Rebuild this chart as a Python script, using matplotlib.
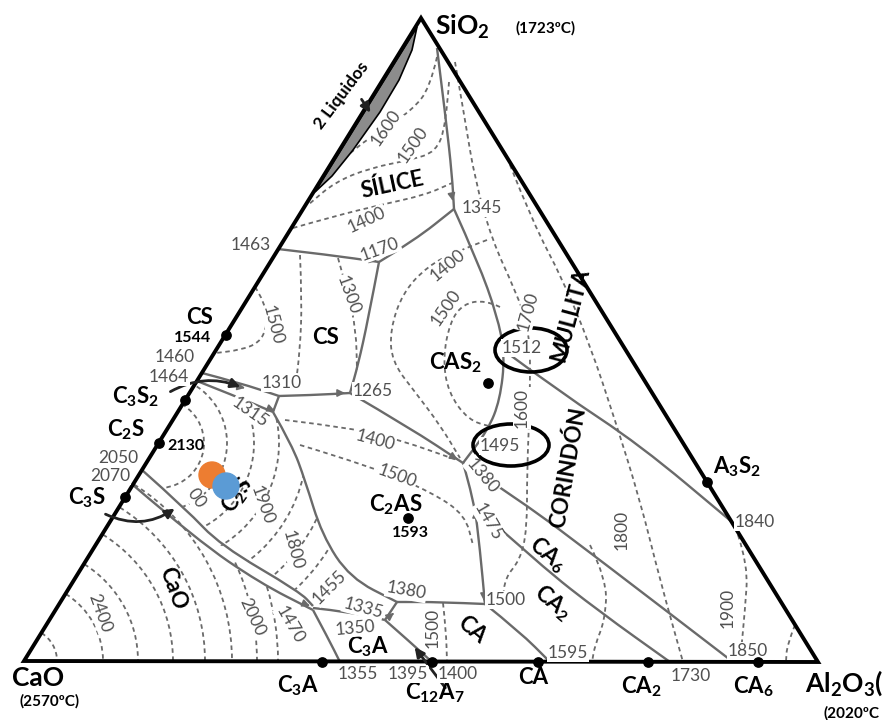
import matplotlib.pyplot as plt
from matplotlib.path import Path
from matplotlib.patches import PathPatch, Polygon, Ellipse, Circle, Arc

plt.rcParams["font.family"] = ["Lato", "DejaVu Sans"]
plt.rcParams["mathtext.fontset"] = "custom"
plt.rcParams["mathtext.rm"] = "Lato:bold"
plt.rcParams["mathtext.bf"] = "Lato:bold"
plt.rcParams["mathtext.default"] = "bf"

# picture units: x to the right, y downwards (0..890, 0..720)
corners = [(24, 661), (818, 662), (421, 18)]          # CaO, Al2O3, SiO2

two_liquids = [(315, 192), (417, 27), (412, 50), (399, 80), (380, 112), (353, 150), (332, 176)]

compounds = [(226, 335), (185, 400), (159, 443), (125, 497),        # CS C3S2 C2S C3S
             (322, 662), (432, 662), (538, 662), (648, 662), (758, 662),
             (707, 482), (488, 383), (408, 518)]                   # A3S2 CAS2 C2AS

boundaries = [
    [(278, 249), (330, 255), (379, 262)],
    [(379, 262), (415, 240), (454, 209)],
    [(437, 48), (446, 120), (452, 175), (454, 209)],
    [(454, 209), (478, 262), (497, 315), (505, 355), (500, 400), (488, 430), (463, 463)],
    [(379, 262), (368, 320), (358, 365), (350, 393)],
    [(279, 396), (315, 395), (350, 393)],
    [(350, 393), (410, 428), (463, 463)],
    [(463, 463), (474, 500), (480, 550), (485, 604)],
    [(485, 604), (440, 602), (397, 602)],
    [(485, 604), (520, 632), (550, 662)],
    [(506, 352), (560, 392), (640, 445), (732, 522)],
    [(463, 463), (520, 500), (600, 560), (733, 662)],
    [(476, 507), (540, 565), (600, 612), (670, 662)],
    [(202, 373), (240, 383), (279, 396)],
    [(197, 381), (235, 396), (273, 412)],
    [(279, 396), (273, 412)],
    [(273, 412), (292, 445), (305, 480), (322, 535), (350, 578), (397, 602)],
    [(142, 470), (187, 510), (220, 545), (300, 592), (313, 606)],
    [(133, 485), (197, 540), (260, 583), (313, 610)],
    [(313, 608), (350, 612), (385, 620)],
    [(385, 620), (397, 602)],
    [(313, 610), (328, 638), (340, 662)],
    [(385, 620), (410, 642), (432, 662)],
]

isotherms = [
    [(437, 57), (430, 88), (412, 110), (385, 128), (355, 148), (330, 172)],
    [(449, 82), (446, 125), (436, 152), (410, 160), (370, 168), (335, 182), (308, 205)],
    [(293, 228), (335, 216), (380, 205), (425, 195), (452, 183)],
    [(455, 62), (465, 120), (475, 180), (492, 240), (515, 290), (530, 330), (530, 400),
     (527, 470), (527, 530), (520, 560), (505, 578), (503, 600)],
    [(510, 165), (533, 223), (563, 280), (590, 345), (615, 420), (640, 500), (660, 580), (683, 662)],
    [(738, 535), (748, 565), (745, 610), (740, 662)],
    [(795, 625), (787, 645), (786, 662)],
    [(443, 603), (446, 630), (447, 662)],
    [(590, 545), (607, 580), (605, 620), (595, 645), (592, 662)],
    [(487, 240), (455, 252), (428, 266), (403, 292), (390, 330), (392, 362), (415, 392),
     (440, 425), (460, 458)],
    [(500, 307), (485, 300), (463, 304), (450, 322), (443, 358), (448, 392), (468, 420), (492, 427)],
    [(255, 287), (265, 302), (267, 327), (259, 343), (240, 350), (216, 353)],
    [(300, 255), (302, 300), (300, 350), (295, 390)],
    [(338, 258), (348, 293), (356, 330), (357, 370)],
    [(285, 420), (352, 428), (400, 440), (457, 460)],
    [(300, 445), (373, 467), (433, 493), (465, 515), (473, 545)],
]

cao_radii = [33, 79, 114, 149, 181, 208, 233, 254]
cao_reach = [58, 58, 58, 58, 58, 58, 25, 17]          # degrees above the base
c2s_radii = [45, 68, 95, 120, 148, 175, 200]
c2s_field = [(197, 381), (142, 470), (187, 510), (220, 545), (300, 592), (313, 606),
             (350, 612), (385, 620), (397, 602), (350, 578), (322, 535), (305, 480),
             (292, 445), (273, 412), (235, 396)]

ellipses = [(531, 350, 72, 44), (511, 445, 76, 42)]
samples = [(212, 475, "#ED7D31"), (226, 486, "#5B9BD5")]

arrows = [  # (x, y, dx, dy) small flow arrows on boundaries
    (452, 196, 1, 5), (372, 260, 5, 1), (240, 387, 5, 1), (340, 393, 5, 0),
    (455, 458, 5, 3), (476, 515, 0, -5), (484, 596, 0, 5), (270, 409, 5, 2),
    (305, 604, 5, 2), (390, 616, 4, -3), (488, 601, -5, 0),
]

big_labels = [("SiO$_2$", 435, 27, "left"), ("CaO", 12, 678, "left"), ("Al$_2$O$_3$(", 805, 683, "left")]
melt_labels = [("(1723ºC)", 516, 28), ("(2570ºC)", 20, 701), ("(2020ºC", 823, 713)]

phase_labels = [
    ("CS", 200, 317, 0), ("C$_3$S$_2$", 136, 397, 0), ("C$_2$S", 126, 430, 0), ("C$_3$S", 87, 498, 0),
    ("CS", 326, 337, 0), ("SÍLICE", 392, 185, 12), ("CAS$_2$", 455, 363, 0),
    ("MULLITA", 570, 315, 75), ("CORINDÓN", 568, 468, 80), ("C$_2$AS", 396, 505, 0),
    ("CA$_6$", 548, 555, -40), ("CA$_2$", 553, 603, -40), ("CA", 472, 630, -40),
    ("C$_3$A", 368, 647, 0), ("C$_2$S", 238, 495, 55), ("CaO", 173, 588, -70),
    ("C$_3$A", 298, 686, 0), ("C$_{12}$A$_7$", 435, 693, 0), ("CA", 533, 678, 0),
    ("CA$_2$", 641, 687, 0), ("CA$_6$", 753, 687, 0), ("A$_3$S$_2$", 737, 467, 0),
]
note_labels = [("2 Liquidos", 341, 95, 53)]
point_temps = [("1544", 193, 338), ("2130", 186, 446), ("1593", 410, 533)]

temps = [
    ("1600", 386, 128, 55), ("1500", 413, 145, 55), ("1400", 367, 220, 25), ("1345", 482, 208, 0),
    ("1170", 380, 249, 20), ("1463", 251, 245, 0), ("1300", 348, 295, -70), ("1500", 273, 325, -75),
    ("1400", 448, 265, 40), ("1500", 446, 308, 55), ("1700", 528, 311, 75), ("1512", 522, 348, 0),
    ("1495", 500, 446, 0), ("1600", 522, 408, 90), ("1400", 375, 440, -15), ("1500", 397, 476, -20),
    ("1380", 482, 476, -50), ("1265", 373, 391, 0), ("1310", 282, 383, 0), ("1315", 250, 412, -35),
    ("1460", 175, 357, 0), ("1464", 169, 377, 0), ("2050", 118, 458, 0), ("2070", 110, 476, 0),
    ("00", 196, 498, -55), ("1900", 262, 505, -70), ("1800", 293, 550, -75), ("2400", 100, 613, -70),
    ("2000", 252, 617, -65), ("1470", 290, 625, -60), ("1455", 329, 587, 45), ("1335", 363, 608, -15),
    ("1350", 355, 628, 5), ("1380", 406, 591, -10), ("1500", 433, 628, 90), ("1475", 488, 522, -60),
    ("1500", 506, 600, 0), ("1595", 568, 653, 0), ("1355", 358, 674, 0), ("1395", 408, 674, 0),
    ("1400", 458, 674, 0), ("1730", 691, 676, 0), ("1850", 748, 651, 0), ("1840", 755, 522, 0),
    ("1800", 622, 530, 90), ("1900", 728, 608, 90),
]

pointers = [  # black label arrows: start, end, curvature
    ((360, 97), (372, 115), 0.0), ((168, 393), (243, 388), -0.25),
    ((103, 513), (177, 507), 0.3), ((447, 690), (413, 645), 0.0),
]

GRAY = "#6a6a6a"


def smooth(points):
    verts, codes = [points[0]], [Path.MOVETO]
    for i in range(1, len(points) - 1):
        nxt = points[i + 1]
        mid = ((points[i][0] + nxt[0]) / 2, (points[i][1] + nxt[1]) / 2)
        verts += [points[i], mid]
        codes += [Path.CURVE3, Path.CURVE3]
    verts.append(points[-1])
    codes.append(Path.LINETO)
    return Path(verts, codes)


fig = plt.figure(figsize=(8.9, 7.2), dpi=100)
ax = fig.add_axes([0, 0, 1, 1])
ax.set_xlim(0, 890)
ax.set_ylim(720, 0)
ax.axis("off")

for pts in isotherms:
    ax.add_patch(PathPatch(smooth(pts), fill=False, ec=GRAY, lw=1.3, ls=(0, (2.5, 2))))

cao_x, cao_y = corners[0]
for r, reach in zip(cao_radii, cao_reach):
    ax.add_patch(Arc((cao_x, cao_y), 2 * r, 2 * r, theta1=-reach, theta2=0,
                     ec=GRAY, lw=1.3, ls=(0, (2.5, 2))))

field = Polygon(c2s_field, closed=True, transform=ax.transData)
for r in c2s_radii:
    arc = Arc(compounds[2], 2 * r, 2 * r, theta1=-70, theta2=85, ec=GRAY, lw=1.3, ls=(0, (2.5, 2)))
    ax.add_patch(arc)
    arc.set_clip_path(field)

for pts in boundaries:
    ax.add_patch(PathPatch(smooth(pts), fill=False, ec=GRAY, lw=1.7))

for x, y, dx, dy in arrows:
    ax.annotate("", xy=(x + dx, y + dy), xytext=(x, y),
                arrowprops=dict(arrowstyle="-|>", color=GRAY, lw=1.2, mutation_scale=11))

ax.add_patch(Polygon(two_liquids, closed=True, fc="#8c8c8c", ec="black", lw=1.2))
ax.add_patch(Polygon(corners, closed=True, fill=False, ec="black", lw=2.8, joinstyle="miter"))

for cx, cy, w, h in ellipses:
    ax.add_patch(Ellipse((cx, cy), w, h, fill=False, ec="black", lw=2.6))

xs, ys = zip(*compounds)
ax.scatter(xs, ys, s=45, color="black", zorder=5)

for x, y, c in samples:
    ax.add_patch(Circle((x, y), 13, color=c, zorder=6))

for (x0, y0), (x1, y1), rad in pointers:
    ax.annotate("", xy=(x1, y1), xytext=(x0, y0),
                arrowprops=dict(arrowstyle="-|>", color="#222222", lw=2.0, mutation_scale=14,
                                connectionstyle=f"arc3,rad={rad}"))

for text, x, y, ha in big_labels:
    ax.text(x, y, text, fontsize=19, fontweight="bold", ha=ha, va="center")
for text, x, y in melt_labels:
    ax.text(x, y, text, fontsize=11, fontweight="bold", ha="left", va="center")
for text, x, y, rot in phase_labels:
    ax.text(x, y, text, fontsize=16, fontweight="bold", ha="center", va="center",
            rotation=rot, rotation_mode="anchor")
for text, x, y, rot in note_labels:
    ax.text(x, y, text, fontsize=12.5, fontweight="bold", ha="center", va="center",
            rotation=rot, rotation_mode="anchor")
for text, x, y in point_temps:
    ax.text(x, y, text, fontsize=11.5, fontweight="bold", ha="center", va="center")
for text, x, y, rot in temps:
    ax.text(x, y, text, fontsize=12.5, color="#505050", ha="center", va="center",
            rotation=rot, rotation_mode="anchor",
            bbox=dict(boxstyle="square,pad=0.05", fc="white", ec="none"))

fig.savefig("out.png", dpi=100)
